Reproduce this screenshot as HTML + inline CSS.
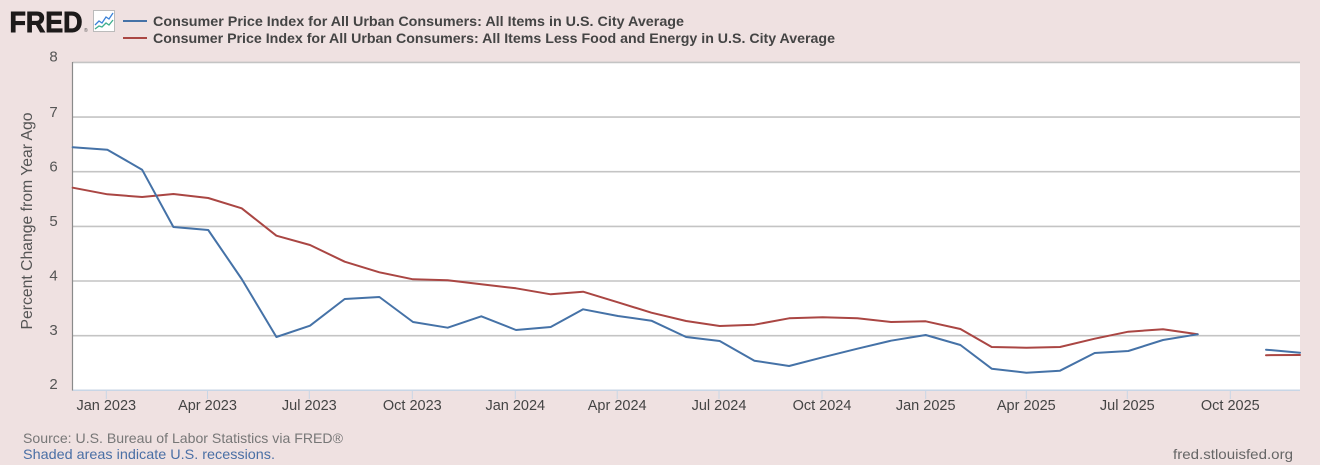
<!DOCTYPE html>
<html><head><meta charset="utf-8"><style>
html,body{margin:0;padding:0;background:#efe1e1;}
svg{display:block;}
</style></head><body>
<svg width="1320" height="465" viewBox="0 0 1320 465" xmlns="http://www.w3.org/2000/svg">
<rect x="0" y="0" width="1320" height="465" fill="#efe1e1"/>
<!-- logo -->
<text x="9.5" y="32" font-family="Liberation Sans, sans-serif" font-weight="bold" font-size="29" fill="#1d1a1a" stroke="#1d1a1a" stroke-width="0.9" textLength="73" lengthAdjust="spacingAndGlyphs">FRED</text>
<text x="84" y="32" font-family="Liberation Sans, sans-serif" font-size="5" fill="#555">®</text>
<rect x="93.5" y="10.5" width="21" height="21" fill="#fff" stroke="#bbb" stroke-width="1"/>
<polyline points="95,25 99,21 102,23 106,17 109,19 113,13" fill="none" stroke="#3b82d8" stroke-width="1.3"/>
<polyline points="95,29 99,26 102,27 106,23 109,25 113,20" fill="none" stroke="#3fae8e" stroke-width="1.3"/>
<!-- legend -->
<line x1="123" y1="21" x2="147" y2="21" stroke="#4572a7" stroke-width="2"/>
<line x1="123" y1="38" x2="147" y2="38" stroke="#aa4643" stroke-width="2"/>
<text x="153" y="26" font-family="Liberation Sans, sans-serif" font-weight="bold" font-size="14" fill="#444" textLength="531" lengthAdjust="spacingAndGlyphs">Consumer Price Index for All Urban Consumers: All Items in U.S. City Average</text>
<text x="153" y="43" font-family="Liberation Sans, sans-serif" font-weight="bold" font-size="14" fill="#444" textLength="682" lengthAdjust="spacingAndGlyphs">Consumer Price Index for All Urban Consumers: All Items Less Food and Energy in U.S. City Average</text>
<!-- plot area -->
<rect x="72.5" y="62.4" width="1227.5" height="327.9" fill="#ffffff"/>
<g stroke="#c4c4c4" stroke-width="1.6">
<line x1="72.5" y1="62.4" x2="1300" y2="62.4"/>
<line x1="72.5" y1="117.1" x2="1300" y2="117.1"/>
<line x1="72.5" y1="171.7" x2="1300" y2="171.7"/>
<line x1="72.5" y1="226.4" x2="1300" y2="226.4"/>
<line x1="72.5" y1="281.0" x2="1300" y2="281.0"/>
<line x1="72.5" y1="335.7" x2="1300" y2="335.7"/>
</g>
<line x1="1300" y1="390.2" x2="72.5" y2="390.2" stroke="#c8d6e6" stroke-width="1.5"/>
<line x1="72.5" y1="62" x2="72.5" y2="390.5" stroke="#8a8a8a" stroke-width="1.2"/>
<!-- x ticks -->
<g stroke="#c8d6e6" stroke-width="1">
<line x1="106.3" y1="390" x2="106.3" y2="399"/>
<line x1="207.5" y1="390" x2="207.5" y2="399"/>
<line x1="309.3" y1="390" x2="309.3" y2="399"/>
<line x1="412.3" y1="390" x2="412.3" y2="399"/>
<line x1="515.3" y1="390" x2="515.3" y2="399"/>
<line x1="617.2" y1="390" x2="617.2" y2="399"/>
<line x1="719" y1="390" x2="719" y2="399"/>
<line x1="822" y1="390" x2="822" y2="399"/>
<line x1="925.7" y1="390" x2="925.7" y2="399"/>
<line x1="1026.3" y1="390" x2="1026.3" y2="399"/>
<line x1="1127.3" y1="390" x2="1127.3" y2="399"/>
<line x1="1230.3" y1="390" x2="1230.3" y2="399"/>
</g>
<g font-family="Liberation Sans, sans-serif" font-size="14.5" fill="#444" text-anchor="middle">
<text x="106.3" y="410">Jan 2023</text>
<text x="207.5" y="410">Apr 2023</text>
<text x="309.3" y="410">Jul 2023</text>
<text x="412.3" y="410">Oct 2023</text>
<text x="515.3" y="410">Jan 2024</text>
<text x="617.2" y="410">Apr 2024</text>
<text x="719" y="410">Jul 2024</text>
<text x="822" y="410">Oct 2024</text>
<text x="925.7" y="410">Jan 2025</text>
<text x="1026.3" y="410">Apr 2025</text>
<text x="1127.3" y="410">Jul 2025</text>
<text x="1230.3" y="410">Oct 2025</text>
</g>
<!-- y labels -->
<g font-family="Liberation Sans, sans-serif" font-size="15" fill="#555" text-anchor="middle">
<text x="53.5" y="61.5">8</text>
<text x="53.5" y="117">7</text>
<text x="53.5" y="171.5">6</text>
<text x="53.5" y="226">5</text>
<text x="53.5" y="280.5">4</text>
<text x="53.5" y="335">3</text>
<text x="53.5" y="389">2</text>
</g>
<text transform="translate(32,221) rotate(-90)" font-family="Liberation Sans, sans-serif" font-size="16" fill="#555" text-anchor="middle" textLength="217" lengthAdjust="spacingAndGlyphs">Percent Change from Year Ago</text>
<!-- series -->
<g fill="none" stroke-width="2" stroke-linejoin="round" stroke-linecap="round">
<polyline stroke="#aa4643" points="72.7,187.7 107.4,194.3 142.1,197 173.4,194 208.2,198 241.7,208.3 276.4,235.7 310,245 344.7,261.7 379.4,272.3 413,279.3 447.7,280.3 481.3,284.3 516,288.3 550.7,294.3 583.1,291.7 617.9,302.3 651.4,312.7 686.1,321 719.7,326 754.4,324.7 789.1,318.3 822.7,317.3 857.4,318.3 891,322 925.7,321.3 960.4,329 991.7,347 1026.4,347.7 1060,347 1094.7,338.7 1128.3,331.7 1163,329.3 1197.7,334.3"/>
<polyline stroke="#aa4643" points="1266,355.2 1300,355"/>
<polyline stroke="#4572a7" points="72.7,147.3 107.4,149.7 142.1,169.7 173.4,227 208.2,230 241.7,279 276.4,337 310,325.7 344.7,299 379.4,297 413,322 447.7,327.7 481.3,316.3 516,330 550.7,327 583.1,309.3 617.9,316 651.4,320.7 686.1,337 719.7,341 754.4,360.7 789.1,366 822.7,357.3 857.4,348.7 891,340.7 925.7,335 960.4,345 991.7,368.7 1026.4,372.7 1060,370.7 1094.7,353 1128.3,351 1163,340 1197.7,334.3"/>
<polyline stroke="#4572a7" points="1266,349.7 1300,352.7"/>
</g>
<!-- footer -->
<text x="23" y="443" font-family="Liberation Sans, sans-serif" font-size="14" fill="#777" textLength="320" lengthAdjust="spacingAndGlyphs">Source: U.S. Bureau of Labor Statistics via FRED®</text>
<text x="23" y="459" font-family="Liberation Sans, sans-serif" font-size="14" fill="#4a6fa5" textLength="252" lengthAdjust="spacingAndGlyphs">Shaded areas indicate U.S. recessions.</text>
<text x="1293" y="459" font-family="Liberation Sans, sans-serif" font-size="14" fill="#666" text-anchor="end" textLength="120" lengthAdjust="spacingAndGlyphs">fred.stlouisfed.org</text>
</svg>
</body></html>
